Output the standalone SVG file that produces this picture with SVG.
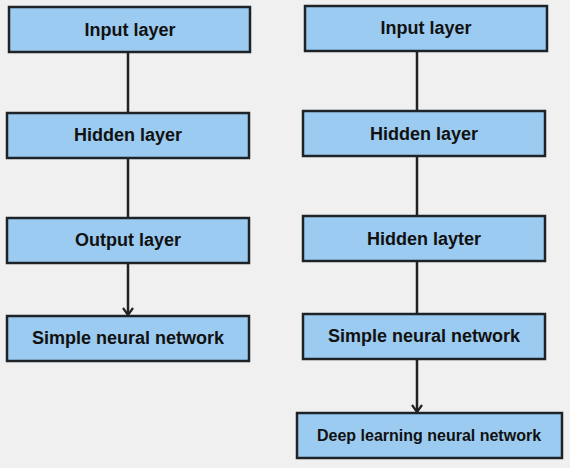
<svg xmlns="http://www.w3.org/2000/svg" width="570" height="468" viewBox="0 0 570 468">
<style>
.box{fill:#9bcbf0;stroke:#1e2328;stroke-width:2.5}
.t{font-family:"Liberation Sans",Arial,sans-serif;font-weight:bold;font-size:18px;fill:#111;text-anchor:middle;dominant-baseline:central}
.s{font-size:16px}
.ln{stroke:#222;stroke-width:2.5;fill:none}
</style>
<defs>
<marker id="ah" viewBox="0 0 12 12" refX="11" refY="6" markerWidth="12" markerHeight="12" markerUnits="userSpaceOnUse" orient="auto">
<path d="M4,1 L11,6 L4,11" fill="none" stroke="#222" stroke-width="2.2"/>
</marker>
</defs>
<rect width="570" height="468" fill="#f0f0f0"/>
<g id="connectors">
<line class="ln" x1="128" y1="53" x2="128" y2="113"/>
<line class="ln" x1="128" y1="159" x2="128" y2="218"/>
<line class="ln" x1="128" y1="264" x2="128" y2="315" marker-end="url(#ah)"/>
<line class="ln" x1="417" y1="52" x2="417" y2="111"/>
<line class="ln" x1="417" y1="157" x2="417" y2="216"/>
<line class="ln" x1="417" y1="262" x2="417" y2="314"/>
<line class="ln" x1="417" y1="360" x2="417" y2="412" marker-end="url(#ah)"/>
</g>
<g id="l-input"><rect class="box" x="9" y="7" width="241" height="45"/><text class="t" x="130" y="30">Input layer</text></g>
<g id="l-hidden"><rect class="box" x="7" y="113" width="242" height="45"/><text class="t" x="128" y="135">Hidden layer</text></g>
<g id="l-output"><rect class="box" x="7" y="218" width="242" height="45"/><text class="t" x="128" y="240">Output layer</text></g>
<g id="l-simple"><rect class="box" x="7" y="316" width="242" height="45"/><text class="t" x="128" y="338">Simple neural network</text></g>
<g id="r-input"><rect class="box" x="305" y="6" width="242" height="45"/><text class="t" x="426" y="28">Input layer</text></g>
<g id="r-hidden"><rect class="box" x="303" y="111" width="242" height="45"/><text class="t" x="424" y="134">Hidden layer</text></g>
<g id="r-hidden2"><rect class="box" x="303" y="216" width="242" height="45"/><text class="t" x="424" y="239">Hidden layter</text></g>
<g id="r-simple"><rect class="box" x="303" y="314" width="242" height="45"/><text class="t" x="424" y="336">Simple neural network</text></g>
<g id="r-deep"><rect class="box" x="297" y="413" width="265" height="45"/><text class="t s" x="429" y="435">Deep learning neural network</text></g>
</svg>
